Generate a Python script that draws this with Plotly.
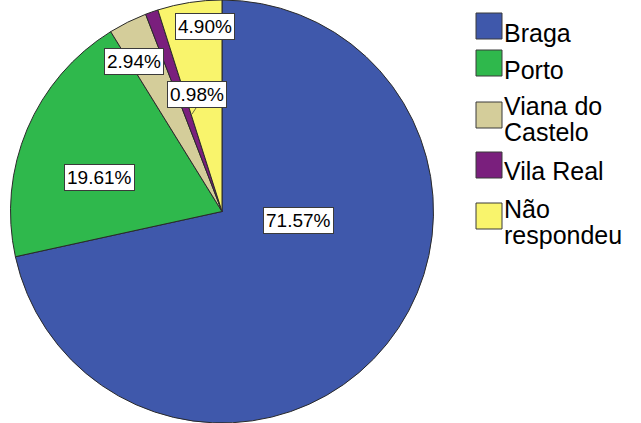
import plotly.graph_objects as go

categories = ["Braga", "Porto", "Viana do Castelo", "Vila Real", "Não respondeu"]
legend_lines = [["Braga"], ["Porto"], ["Viana do", "Castelo"], ["Vila Real"], ["Não", "respondeu"]]
values = [71.57, 19.61, 2.94, 0.98, 4.90]
colors = ["#3F58AB", "#2FB84C", "#D4CD9A", "#7A1F7D", "#F9F46C"]

W, H = 641, 423

# label box centres (pixels) for the percentage labels
label_px = [(298, 220), (99, 177), (134, 62), (197, 94), (205, 27)]
# legend square tops (pixels) and first-line cap centres
legend_sq_top = [13, 50, 102, 152, 203]
legend_text_y = [31, 68, 104, 169, 207]
line_step = 26

fig = go.Figure()
fig.add_trace(go.Pie(
    labels=categories,
    values=values,
    sort=False,
    direction="clockwise",
    rotation=0,
    marker=dict(colors=colors, line=dict(color="#2a2a2a", width=1)),
    textinfo="none",
    showlegend=False,
    domain=dict(x=[0, 444 / W], y=[0, 1]),
))

annotations = []
shapes = []
for v, (px, py) in zip(values, label_px):
    annotations.append(dict(
        x=px / W, y=1 - py / H, xref="paper", yref="paper",
        text=f"{v:.2f}%", showarrow=False,
        font=dict(family="Liberation Sans, Arial", size=19, color="black"),
        bgcolor="white", bordercolor="#3a3a3a", borderwidth=1, borderpad=2,
        xanchor="center", yanchor="middle",
    ))

# small leader line for 0.98%
shapes.append(dict(type="line", xref="paper", yref="paper",
                   x0=196 / W, y0=1 - 108 / H, x1=192 / W, y1=1 - 114 / H,
                   line=dict(color="#6b6b40", width=1)))

sq = 26
for lines, col, top, ty in zip(legend_lines, colors, legend_sq_top, legend_text_y):
    shapes.append(dict(type="rect", xref="paper", yref="paper",
                       x0=476 / W, x1=(476 + sq) / W,
                       y0=1 - (top + sq) / H, y1=1 - top / H,
                       fillcolor=col, line=dict(color="#3a3a3a", width=1)))
    for i, ln in enumerate(lines):
        cy = ty + i * line_step + 2
        annotations.append(dict(
            x=503 / W, y=1 - cy / H, xref="paper", yref="paper",
            text=ln, showarrow=False, align="left",
            font=dict(family="Liberation Sans, Arial", size=25, color="black"),
            xanchor="left", yanchor="middle", borderpad=0,
        ))

fig.update_layout(
    width=W, height=H,
    margin=dict(l=0, r=0, t=0, b=0),
    paper_bgcolor="white", plot_bgcolor="white",
    annotations=annotations, shapes=shapes,
)

fig.write_html("out.html")
